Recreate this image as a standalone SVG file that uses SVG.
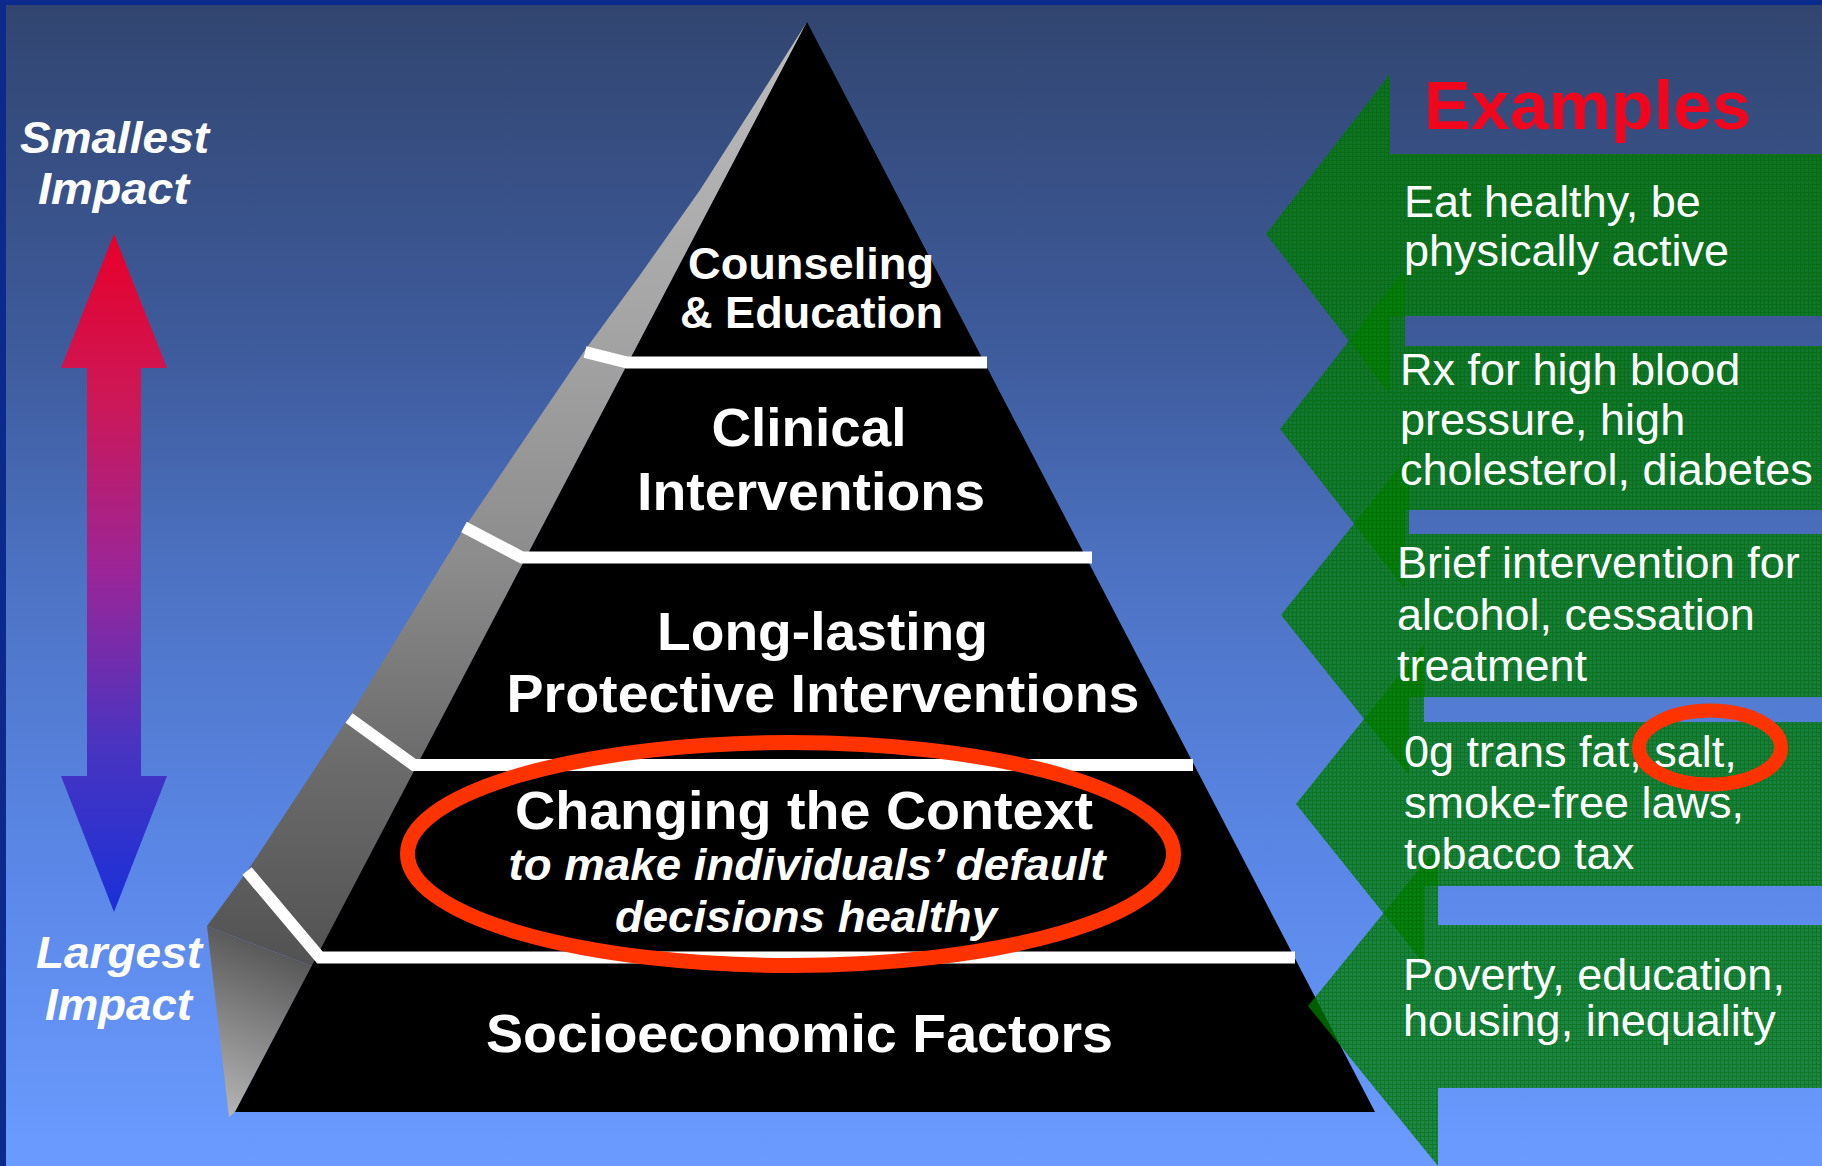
<svg xmlns="http://www.w3.org/2000/svg" width="1822" height="1166" viewBox="0 0 1822 1166">
  <defs>
    <linearGradient id="bg" x1="0" y1="0" x2="0" y2="1166" gradientUnits="userSpaceOnUse">
      <stop offset="0" stop-color="#31456f"/>
      <stop offset="0.3" stop-color="#3e5b9c"/>
      <stop offset="0.5" stop-color="#4d73c4"/>
      <stop offset="0.75" stop-color="#5b88e8"/>
      <stop offset="1" stop-color="#6b9bff"/>
    </linearGradient>
    <linearGradient id="impactGrad" x1="0" y1="234" x2="0" y2="912" gradientUnits="userSpaceOnUse">
      <stop offset="0" stop-color="#e8002a"/>
      <stop offset="0.25" stop-color="#cc1858"/>
      <stop offset="0.5" stop-color="#9a2698"/>
      <stop offset="0.75" stop-color="#4a34c0"/>
      <stop offset="1" stop-color="#1a30d8"/>
    </linearGradient>
    <linearGradient id="sideGrad" x1="0" y1="22" x2="0" y2="966" gradientUnits="userSpaceOnUse">
      <stop offset="0" stop-color="#bdbdbd"/>
      <stop offset="0.35" stop-color="#a2a2a2"/>
      <stop offset="0.57" stop-color="#8c8c8c"/>
      <stop offset="0.78" stop-color="#6c6c6c"/>
      <stop offset="1" stop-color="#525252"/>
    </linearGradient>
    <linearGradient id="facetGrad" x1="300" y1="940" x2="225" y2="1112" gradientUnits="userSpaceOnUse">
      <stop offset="0" stop-color="#4e4e4e"/>
      <stop offset="1" stop-color="#b4b4b4"/>
    </linearGradient>
    <pattern id="dither" patternUnits="userSpaceOnUse" width="4" height="4">
      <rect width="4" height="4" fill="#008000" fill-opacity="0.72"/>
      <rect width="4" height="1" fill="#006400" fill-opacity="0.45"/>
      <rect y="1" width="1" height="3" fill="#006400" fill-opacity="0.45"/>
    </pattern>
    <style>
      .tier { font-family: "Liberation Sans", Arial, sans-serif; font-weight: bold; fill: #ffffff; text-anchor: middle; }
      .tierIt { font-family: "Liberation Sans", Arial, sans-serif; font-weight: bold; font-style: italic; fill: #ffffff; text-anchor: middle; }
      .impact { font-family: "Liberation Sans", Arial, sans-serif; font-weight: bold; font-style: italic; font-size: 44px; fill: #ffffff; text-anchor: middle; }
      .ex { font-family: "Liberation Sans", Arial, sans-serif; font-size: 45px; fill: #ffffff; }
      .greenArrow { fill: url(#dither); }
      .bar { fill: none; stroke: #ffffff; stroke-width: 12; stroke-linejoin: miter; stroke-linecap: butt; }
      .circle { fill: none; stroke: #ff3300; }
    </style>
  </defs>

  <!-- background and frame -->
  <rect x="0" y="0" width="1822" height="1166" fill="url(#bg)"/>
  <rect x="0" y="0" width="1822" height="5" fill="#0b2a8c"/>
  <rect x="0" y="0" width="6" height="1166" fill="#0b2a8c"/>

  <!-- impact scale -->
  <g id="connectors">
    <path id="impact-arrow" d="M114,234 L167,368 L141,368 L141,776 L167,776 L114,912 L61,776 L87,776 L87,368 L61,368 Z" fill="url(#impactGrad)"/>
  </g>
  <g id="label-smallest">
    <text class="impact" x="114.5" y="153" textLength="189" lengthAdjust="spacingAndGlyphs">Smallest</text>
    <text class="impact" x="113.5" y="204" textLength="151" lengthAdjust="spacingAndGlyphs">Impact</text>
  </g>
  <g id="label-largest">
    <text class="impact" x="119" y="968" textLength="166" lengthAdjust="spacingAndGlyphs">Largest</text>
    <text class="impact" x="118.5" y="1020" textLength="147" lengthAdjust="spacingAndGlyphs">Impact</text>
  </g>

  <!-- pyramid -->
  <g id="pyramid">
    <polygon points="807,22 760,96 700,190 640,275 585,350 465,527 349,717 248,870 207,926 312,966" fill="url(#sideGrad)"/>
    <polygon points="207,926 312,966 235,1112 229,1117" fill="url(#facetGrad)"/>
    <polygon points="807,22 1375,1112 235,1112" fill="#000000"/>
    <polyline class="bar" points="585,352 627,362.5 987,362.5"/>
    <polyline class="bar" points="464,527 522,557.5 1092,557.5"/>
    <polyline class="bar" points="349,718 414,765 1193,765"/>
    <polyline class="bar" points="247,871 320,957.5 1295,957.5"/>
  </g>
  <g id="tier-counseling">
    <text class="tier" x="811" y="279" font-size="45" textLength="246" lengthAdjust="spacingAndGlyphs">Counseling</text>
    <text class="tier" x="811.5" y="328" font-size="45" textLength="263" lengthAdjust="spacingAndGlyphs">&amp; Education</text>
  </g>
  <g id="tier-clinical">
    <text class="tier" x="809" y="446" font-size="54" textLength="195" lengthAdjust="spacingAndGlyphs">Clinical</text>
    <text class="tier" x="811" y="510" font-size="54" textLength="348" lengthAdjust="spacingAndGlyphs">Interventions</text>
  </g>
  <g id="tier-protective">
    <text class="tier" x="822.5" y="650" font-size="54" textLength="331" lengthAdjust="spacingAndGlyphs">Long-lasting</text>
    <text class="tier" x="823" y="712" font-size="54" textLength="633" lengthAdjust="spacingAndGlyphs">Protective Interventions</text>
  </g>
  <g id="tier-context">
    <text class="tier" x="804" y="829" font-size="54" textLength="578" lengthAdjust="spacingAndGlyphs">Changing the Context</text>
    <text class="tierIt" x="807" y="880" font-size="44" textLength="597" lengthAdjust="spacingAndGlyphs">to make individuals’ default</text>
    <text class="tierIt" x="806" y="932" font-size="44" textLength="382" lengthAdjust="spacingAndGlyphs">decisions healthy</text>
  </g>
  <g id="tier-socioeconomic">
    <text class="tier" x="799.5" y="1052" font-size="54" textLength="627" lengthAdjust="spacingAndGlyphs">Socioeconomic Factors</text>
  </g>

  <!-- examples arrows (shapes first, texts on top) -->
  <g id="example-arrows">
    <path id="example-1-arrow" class="greenArrow" d="M1266,234 L1390,74 L1390,154 L1822,154 L1822,316 L1390,316 L1390,394 Z"/>
    <path id="example-2-arrow" class="greenArrow" d="M1280,429 L1405,269 L1405,346 L1822,346 L1822,510 L1405,510 L1405,589 Z"/>
    <path id="example-3-arrow" class="greenArrow" d="M1281,615 L1409,455 L1409,534 L1822,534 L1822,697 L1409,697 L1409,775 Z"/>
    <path id="example-4-arrow" class="greenArrow" d="M1296,804 L1424,644 L1424,722 L1822,722 L1822,886 L1424,886 L1424,964 Z"/>
    <path id="example-5-arrow" class="greenArrow" d="M1308,1006 L1438,846 L1438,925 L1822,925 L1822,1088 L1438,1088 L1438,1166 Z"/>
  </g>
  <g id="example-1">
    <text class="ex" x="1404" y="217">Eat healthy, be</text>
    <text class="ex" x="1404" y="266">physically active</text>
  </g>
  <g id="example-2">
    <text class="ex" x="1400" y="385">Rx for high blood</text>
    <text class="ex" x="1400" y="435">pressure, high</text>
    <text class="ex" x="1400" y="485">cholesterol, diabetes</text>
  </g>
  <g id="example-3">
    <text class="ex" x="1397" y="578">Brief intervention for</text>
    <text class="ex" x="1397" y="630">alcohol, cessation</text>
    <text class="ex" x="1397" y="681">treatment</text>
  </g>
  <g id="example-4">
    <text class="ex" x="1404" y="767">0g trans fat, salt,</text>
    <text class="ex" x="1404" y="818">smoke-free laws,</text>
    <text class="ex" x="1404" y="869">tobacco tax</text>
  </g>
  <g id="example-5">
    <text class="ex" x="1403" y="990">Poverty, education,</text>
    <text class="ex" x="1403" y="1036">housing, inequality</text>
  </g>
  <g id="examples-title">
    <text x="1424" y="129" font-family="'Liberation Sans', Arial, sans-serif" font-weight="bold" font-size="68" fill="#f2061e" textLength="327" lengthAdjust="spacingAndGlyphs">Examples</text>
  </g>

  <!-- highlight circles -->
  <g id="highlights">
    <ellipse class="circle" cx="790.5" cy="854" rx="383" ry="111.5" stroke-width="15"/>
    <ellipse class="circle" cx="1710" cy="747.5" rx="71" ry="37" stroke-width="14"/>
  </g>
</svg>
